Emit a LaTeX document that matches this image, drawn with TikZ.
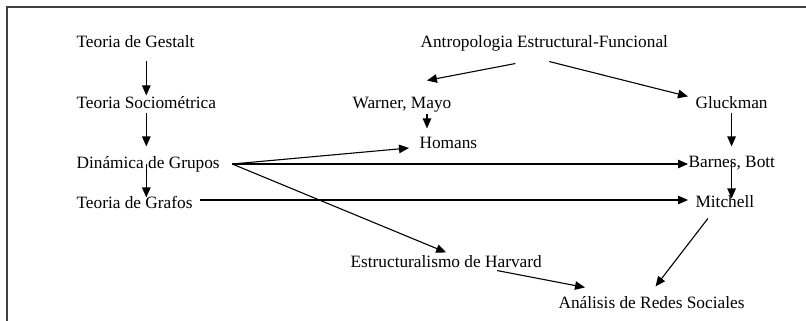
\documentclass[tikz,border=0pt]{standalone}
\usepackage{fontspec}
\setmainfont{Liberation Serif}
\usepackage{tikz}
\usetikzlibrary{arrows.meta}
\usetikzlibrary{calc}
\usetikzlibrary{positioning}

\begin{document}
\begin{tikzpicture}[x=1pt,y=-1pt,-{Triangle[length=10pt,width=8.5pt]},line width=1.1pt]
	\tikzstyle{lbl}=[anchor=base west, inner sep=0pt, text height=12pt, text depth=4pt, font=\fontsize{17.3}{20}\selectfont]
	\tikzstyle{frame}=[-, draw=black!75, line width=2pt]
	\useasboundingbox (0,0) rectangle (806,321);
	\draw[frame] (806,7.5) -- (7,7.5) -- (7,321);

	% left column
	\node[lbl] (gest)   at (76,48)  {Teoria de Gestalt};
	\node[lbl] (socio)  at (76,108) {Teoria Sociométrica};
	\node[lbl] (dinam)  at (76,168) {Dinámica de Grupos};
	\node[lbl] (grafos) at (76,208) {Teoria de Grafos};

	% right side
	\node[lbl] (antro)   at (420,48)  {Antropologia Estructural-Funcional};
	\node[lbl] (warner)  at (352,108) {Warner, Mayo};
	\node[lbl] (homans)  at (419,148) {Homans};
	\node[lbl] (gluck)   at (695,108) {Gluckman};
	\node[lbl] (barnes)  at (688,167) {Barnes, Bott};
	\node[lbl] (mitch)   at (695,207) {Mitchell};
	\node[lbl] (harvard) at (350,267) {Estructuralismo de Harvard};
	\node[lbl] (ars)     at (558,308) {Análisis de Redes Sociales};

	\path
		(gest.south -| socio.north) edge[shorten <=8pt] (socio.north)
		(socio.south) edge[shorten >=9pt] (socio.south |- dinam.north)
		(socio.south |- dinam.center) edge[shorten >=-2pt] (socio.south |- grafos.north)
		([xshift=-29pt,yshift=-11pt]antro.south) edge ([xshift=25pt,yshift=15pt]warner.north)
		([xshift=5pt,yshift=-9pt]antro.south) edge ([xshift=-7pt,yshift=-1pt]gluck.north west)
		([xshift=8pt,yshift=-1pt]homans.north west |- warner.south) edge ([xshift=8pt,yshift=7pt]homans.north west)
		(gluck.south) edge[shorten >=8pt] (gluck.south |- barnes.north)
		(gluck.south |- barnes.center) edge[shorten >=-4pt] (gluck.south |- mitch.north)
		([xshift=12pt]dinam.east) edge ([xshift=-10pt,yshift=-4pt]homans.west)
		([xshift=12pt]dinam.east) edge (barnes.west |- dinam.east)
		([xshift=12pt]dinam.east) edge ([yshift=2pt]harvard.north)
		([xshift=7pt,yshift=4pt]grafos.east) edge ([xshift=-7pt,yshift=4pt]grafos.east -| mitch.west)
		([xshift=-17pt,yshift=-7pt]mitch.south) edge ([xshift=4pt,yshift=9pt]ars.north)
		([xshift=51pt,yshift=1pt]harvard.south) edge ([xshift=27pt,yshift=8pt]ars.north west);

\end{tikzpicture}
\end{document}
